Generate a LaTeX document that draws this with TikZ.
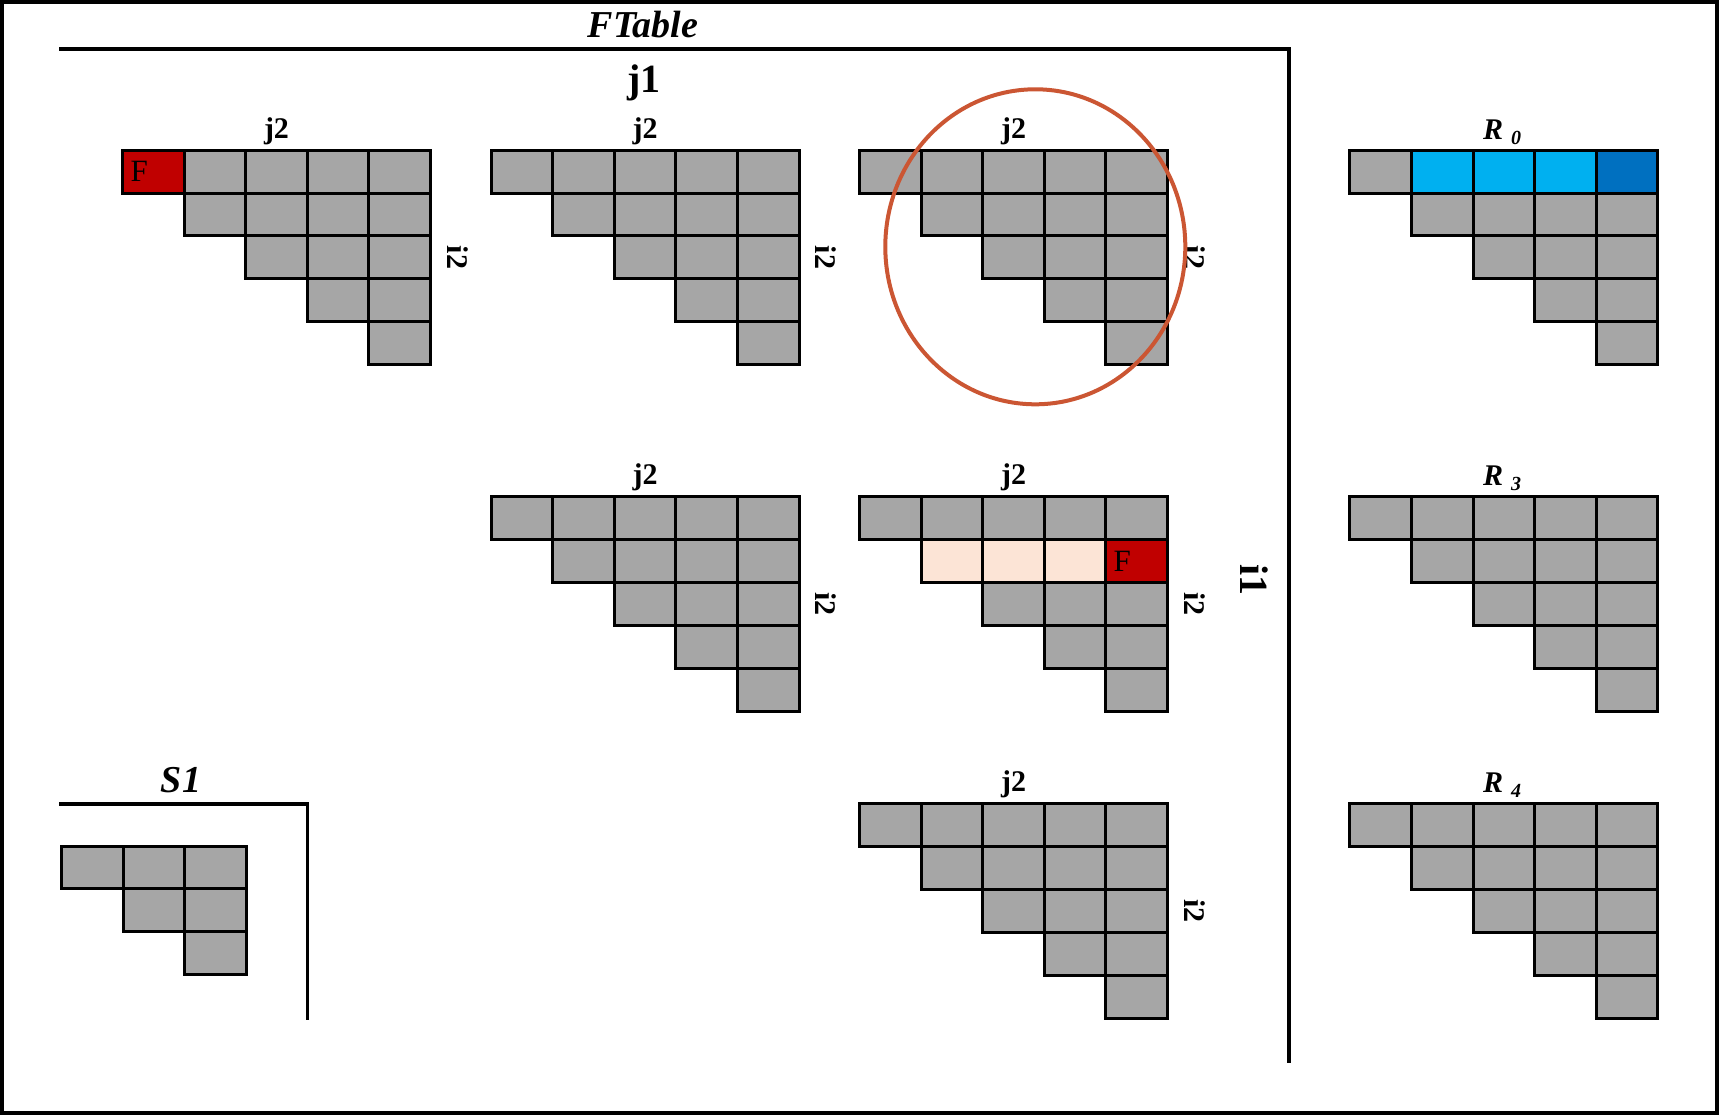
\documentclass[tikz,border=0pt]{standalone}
\usepackage{fontspec}
\setmainfont{Liberation Serif}
\definecolor{cellgray}{HTML}{A6A6A6}
\definecolor{cellred}{HTML}{C00000}
\definecolor{cellpeach}{HTML}{FCE4D6}
\definecolor{lightblue}{HTML}{00B0F0}
\definecolor{darkblue}{HTML}{0070C0}
\definecolor{ringcol}{RGB}{203,86,51}
\newcommand\cw{61.6}
\newcommand\ch{42.9}
\newcommand\trigrid[3]{%
  \pgfmathtruncatemacro\nlast{#3-1}%
  \foreach \r in {0,...,\nlast}{%
    \foreach \c in {\r,...,\nlast}{%
      \path[cell] ({#1+\c*\cw},{#2+\r*\ch}) rectangle ++(\cw,\ch);
    }}}
\begin{document}
\begin{tikzpicture}[x=1pt,y=-1pt,
  cell/.style={draw=black,line width=3pt,fill=cellgray},
  frameline/.style={line width=3.2pt,line cap=rect},
  jlab/.style={font=\bfseries\fontsize{30}{30}\selectfont,inner sep=0pt,anchor=base},
  ilab/.style={font=\bfseries\fontsize{30}{30}\selectfont,inner sep=0pt,rotate=-90},
  biglab/.style={font=\bfseries\fontsize{40}{40}\selectfont,inner sep=0pt},
  ttl/.style={font=\bfseries\itshape\fontsize{38}{38}\selectfont,inner sep=0pt,anchor=base},
  rlab/.style={font=\bfseries\itshape\fontsize{30}{30}\selectfont,inner sep=0pt,anchor=base},
  flab/.style={font=\fontsize{31}{31}\selectfont,inner sep=0pt,anchor=west}]
\useasboundingbox (0,0) rectangle (1719,1115);
\draw[line width=4pt] (2,2) rectangle (1717,1113);

% main FTable frame
\coordinate (ftl) at (61,49);
\coordinate (ftr) at (1289,49);
\coordinate (fbr) at (1289,1061);
\draw[frameline] (ftl) -- (ftr) -- (fbr);
\node[ttl] (ftable) at (643,38) {FTable};
\node[biglab,anchor=base] (j1) at (644,93) {j1};
\node[biglab,rotate=-90] (i1) at (1254,580) {i1};

% S1 frame
\coordinate (stl) at (61,804);
\coordinate (str) at (307.5,804);
\coordinate (sbr) at (307.5,1018);
\draw[frameline] (stl) -- (str) -- (sbr);
\node[ttl] (s1) at (181,792) {S1};

% grids
\foreach \n/\gx/\gy in {ga/122.5/150.2, gb/491.1/150.2, gc/859.5/150.2,
    gd/491.1/496.6, ge/859.5/496.6, gf/859.5/803.6,
    ra/1349.8/150.2, rb/1349.8/496.6, rc/1349.8/803.6}{
  \trigrid{\gx}{\gy}{5}
}
\trigrid{61.5}{846}{3}

% coloured cells
\path[cell,fill=cellred] (122.5,150.2) rectangle ++(\cw,\ch);
\node[flab] (fa) at (130.5,171.6) {F};
\foreach \c in {1,2,3}{
  \path[cell,fill=cellpeach] ({859.5+\c*\cw},{496.6+\ch}) rectangle ++(\cw,\ch);
  \path[cell,fill=lightblue] ({1349.8+\c*\cw},150.2) rectangle ++(\cw,\ch);
}
\path[cell,fill=cellred] ({859.5+4*\cw},{496.6+\ch}) rectangle ++(\cw,\ch);
\node[flab] (fb) at ({859.5+4*\cw+7.5},{496.6+1.5*\ch}) {F};
\path[cell,fill=darkblue] ({1349.8+4*\cw},150.2) rectangle ++(\cw,\ch);

% j2 / i2 labels
\foreach \n/\gx/\gy in {ga/122.5/150.2, gb/491.1/150.2, gc/859.5/150.2,
    gd/491.1/496.6, ge/859.5/496.6, gf/859.5/803.6}{
  \node[jlab] (j2-\n) at ({\gx+154},{\gy-12}) {j2};
  \node[ilab] (i2-\n) at ({\gx+335},{\gy+107.25}) {i2};
}

% R labels
\foreach \n/\gy/\s in {ra/150.2/0, rb/496.6/3, rc/803.6/4}{
  \node[rlab] (lab-\n) at (1502,{\gy-11}) {R\hspace{8pt}\raisebox{-5pt}{\fontsize{20}{20}\selectfont\s}};
}

% highlight ring
\coordinate (ringc) at (1035.3,246.8);
\draw[ringcol,line width=4pt] (ringc) ellipse [x radius=150pt, y radius=157.5pt];
\end{tikzpicture}
\end{document}
